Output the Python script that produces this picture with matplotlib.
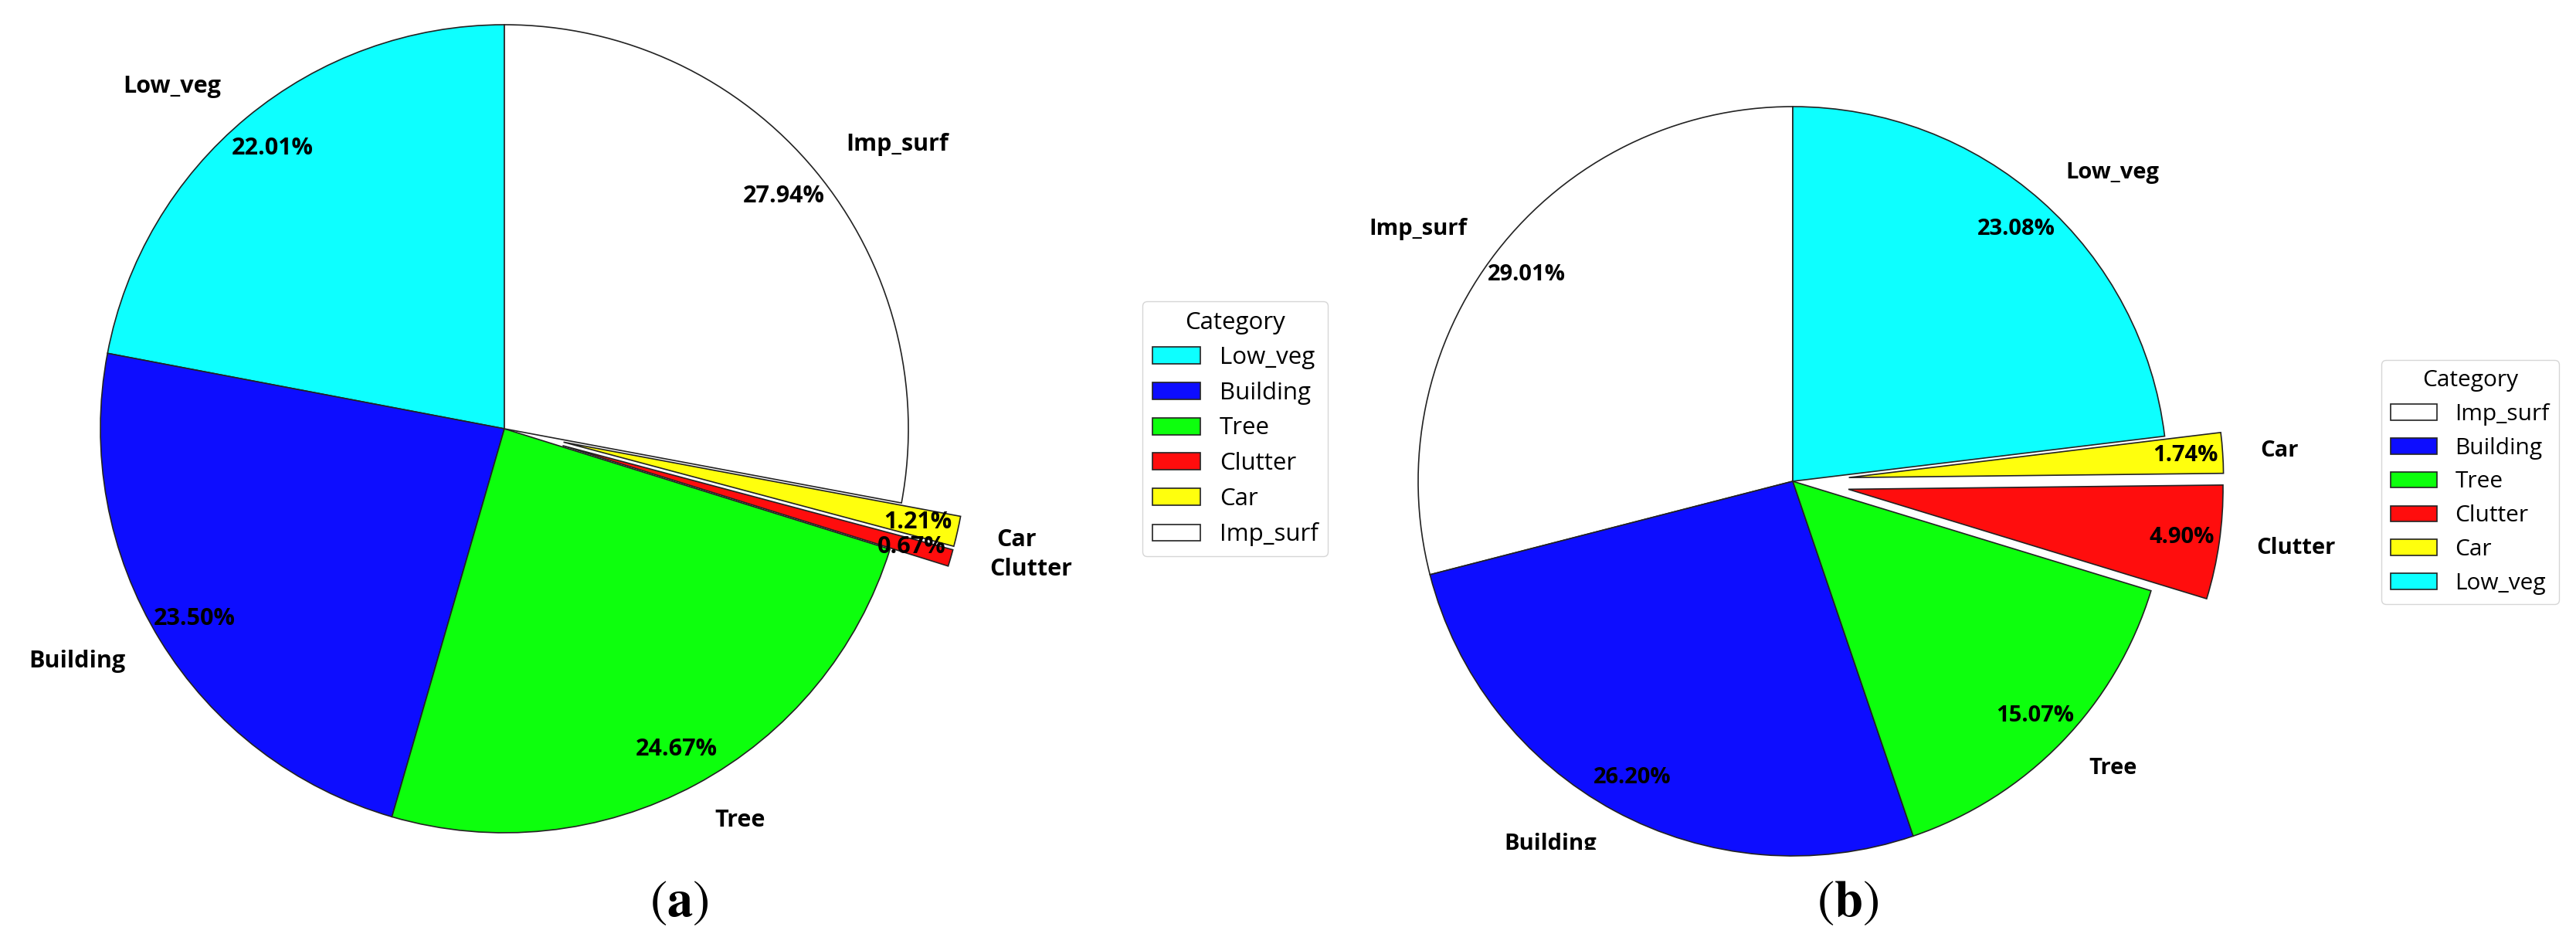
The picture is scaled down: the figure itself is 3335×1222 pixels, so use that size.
import numpy as np
import matplotlib.pyplot as plt

# panel (a)
cats_a = ['Low_veg', 'Building', 'Tree', 'Clutter', 'Car', 'Imp_surf']
vals_a = [22.01, 23.50, 24.67, 0.67, 1.21, 27.94]

# panel (b)
cats_b = ['Imp_surf', 'Building', 'Tree', 'Clutter', 'Car', 'Low_veg']
vals_b = [29.01, 26.20, 15.07, 4.90, 1.74, 23.08]

colors = {'Low_veg': '#0dffff', 'Building': '#0d0dff', 'Tree': '#0dff0d',
          'Clutter': '#ff0d0d', 'Car': '#ffff0d', 'Imp_surf': '#ffffff'}

W, H = 3335, 1222
plt.rcParams['font.family'] = ['Open Sans', 'DejaVu Sans']
plt.rcParams['mathtext.fontset'] = 'stix'

fig = plt.figure(figsize=(W / 100, H / 100), dpi=100)


def pie_panel(box, cx, cy, r, cats, vals, fsize, leg_x, leg_y, leg_size, clip=False):
    # box in pixels (x0, y0_top, x1, y1_bottom)
    x0, y0, x1, y1 = box
    ax = fig.add_axes([x0 / W, 1 - y1 / H, (x1 - x0) / W, (y1 - y0) / H])
    explode = [0.15 if c in ('Car', 'Clutter') else 0 for c in cats]
    wedges, texts, autos = ax.pie(vals, labels=cats, colors=[colors[c] for c in cats],
                                  explode=explode, startangle=90, autopct='%1.2f%%',
                                  pctdistance=0.9, labeldistance=1.1,
                                  wedgeprops=dict(edgecolor='#222222', linewidth=1.2),
                                  textprops=dict(fontsize=fsize, fontweight='bold',
                                                 family=['Open Sans', 'DejaVu Sans']))
    ax.set_aspect('auto')
    ax.set_xlim((x0 - cx) / r, (x1 - cx) / r)
    ax.set_ylim((cy - y1) / r, (cy - y0) / r)
    if clip:
        for t in texts + autos:
            t.set_clip_on(True)
    fig.legend(wedges, cats, title='Category', loc='center left',
               bbox_to_anchor=(leg_x / W, 1 - leg_y / H), borderaxespad=0,
               fontsize=leg_size, title_fontsize=leg_size)
    return ax


pie_panel((0, 0, 1400, H), 653, 555, 523, cats_a, vals_a, 22, 1479, 555, 22.5)
pie_panel((1760, 0, 3060, 1100), 2321, 623, 485, cats_b, vals_b, 21, 3083, 624, 21.5, clip=True)

fig.text(879 / W, 1 - 1168 / H, r'$(\mathbf{a})$', fontsize=48, ha='center', va='center')
fig.text(2392 / W, 1 - 1168 / H, r'$(\mathbf{b})$', fontsize=48, ha='center', va='center')

fig.savefig('out.png', dpi=100)
